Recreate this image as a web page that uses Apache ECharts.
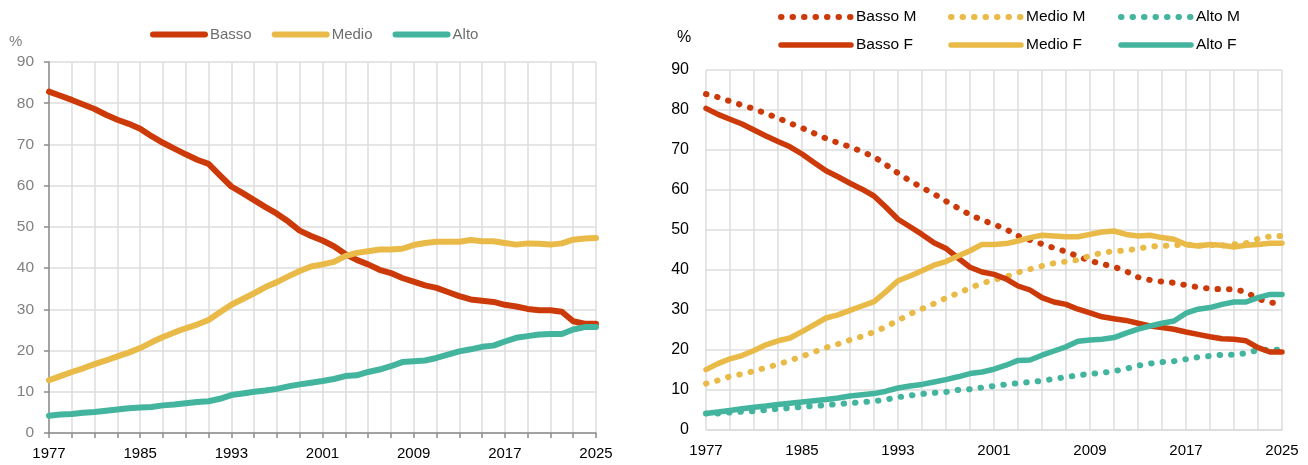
<!DOCTYPE html>
<html>
<head>
<meta charset="utf-8">
<script src="https://cdn.jsdelivr.net/npm/echarts@6/dist/echarts.min.js"></script>
<style>
html, body { margin: 0; padding: 0; background: #fff; }
#chart { width: 1308px; height: 465px; }
</style>
</head>
<body>
<div id="chart"></div>
<script>
// anni 1977-2025
const years = [];
for (let y = 1977; y <= 2025; y++) years.push(String(y));

const yTicks = [0, 10, 20, 30, 40, 50, 60, 70, 80, 90];

// grafico di sinistra: totale
const basso = [82.8, 81.8, 80.8, 79.7, 78.6, 77.2, 76.0, 75.0, 73.8, 72.0, 70.4, 69.0, 67.6, 66.3, 65.3, 62.5, 59.8, 58.2, 56.5, 54.8, 53.2, 51.3, 49.1, 47.8, 46.7,
  45.3, 43.4, 42.0, 40.9, 39.6, 38.8, 37.6, 36.7, 35.8, 35.2, 34.2, 33.2, 32.4, 32.1, 31.8, 31.1, 30.7, 30.1, 29.8, 29.8, 29.4, 27.1, 26.5, 26.5];
const medio = [12.8, 13.8, 14.8, 15.7, 16.7, 17.6, 18.6, 19.5, 20.6, 22.0, 23.3, 24.4, 25.4, 26.3, 27.4, 29.3, 31.1, 32.5, 33.9, 35.4, 36.6, 38.0, 39.3, 40.4, 40.9,
  41.5, 42.9, 43.7, 44.1, 44.5, 44.5, 44.7, 45.6, 46.1, 46.4, 46.4, 46.4, 46.8, 46.5, 46.5, 46.1, 45.7, 46.0, 45.9, 45.7, 46.0, 46.9, 47.2, 47.3];
const alto = [4.2, 4.5, 4.6, 4.9, 5.1, 5.4, 5.7, 6.0, 6.2, 6.3, 6.7, 6.9, 7.2, 7.5, 7.7, 8.3, 9.2, 9.6, 10.0, 10.3, 10.7, 11.3, 11.8, 12.2, 12.6,
  13.1, 13.8, 14.0, 14.8, 15.4, 16.2, 17.2, 17.4, 17.6, 18.2, 19.0, 19.8, 20.3, 20.9, 21.2, 22.2, 23.1, 23.5, 23.9, 24.0, 24.0, 25.1, 25.7, 25.7];

// grafico di destra: maschi (M) e femmine (F)
const bassoM = [84.0, 83.2, 82.2, 81.2, 80.3, 79.1, 78.0, 76.7, 75.5, 74.2, 72.9, 71.8, 70.8, 69.6, 68.3, 66.3, 64.2, 62.3, 60.6, 59.0, 57.2, 55.5, 53.8, 52.5, 51.4,
  50.2, 48.5, 47.5, 46.5, 45.5, 44.6, 43.4, 42.3, 41.5, 40.8, 39.7, 38.2, 37.5, 37.1, 36.8, 36.2, 35.7, 35.3, 35.2, 35.2, 34.5, 32.8, 31.9, 31.5];
const medioM = [11.6, 12.4, 13.4, 14.0, 14.7, 15.6, 16.4, 17.4, 18.4, 19.5, 20.6, 21.5, 22.5, 23.4, 24.5, 25.8, 27.4, 29.0, 30.3, 31.6, 33.0, 34.2, 35.5, 36.7, 37.5,
  38.3, 39.4, 40.2, 41.0, 41.7, 42.1, 42.5, 43.6, 44.3, 44.7, 44.9, 45.3, 45.9, 46.0, 46.2, 46.4, 46.1, 46.3, 46.1, 46.4, 46.7, 47.8, 48.4, 48.5];
const altoM = [4.1, 4.1, 4.4, 4.6, 4.7, 5.0, 5.3, 5.5, 5.8, 6.0, 6.2, 6.5, 6.7, 7.0, 7.2, 7.6, 8.2, 8.6, 9.0, 9.3, 9.5, 10.0, 10.2, 10.6, 11.0,
  11.4, 11.7, 12.0, 12.3, 12.8, 13.2, 13.7, 14.0, 14.3, 14.7, 15.3, 16.1, 16.6, 17.0, 17.2, 17.7, 18.2, 18.5, 18.8, 18.8, 19.2, 20.0, 20.1, 20.0];
const bassoF = [80.4, 78.9, 77.7, 76.5, 75.0, 73.5, 72.1, 70.8, 69.0, 66.9, 64.8, 63.3, 61.7, 60.2, 58.5, 55.7, 52.7, 50.8, 48.9, 46.8, 45.4, 43.0, 40.7, 39.5, 38.9,
  37.8, 36.0, 35.0, 33.1, 32.0, 31.4, 30.2, 29.3, 28.3, 27.8, 27.4, 26.7, 26.0, 25.6, 25.2, 24.5, 23.9, 23.3, 22.8, 22.7, 22.3, 20.6, 19.5, 19.5];
const medioF = [15.1, 16.6, 17.8, 18.6, 19.9, 21.3, 22.3, 23.0, 24.6, 26.3, 28.0, 28.8, 29.9, 31.0, 32.1, 34.6, 37.3, 38.5, 39.8, 41.2, 42.1, 43.5, 44.8, 46.4, 46.4,
  46.6, 47.25, 48.1, 48.7, 48.5, 48.3, 48.3, 48.9, 49.5, 49.75, 48.9, 48.5, 48.7, 48.1, 47.7, 46.4, 46.0, 46.4, 46.2, 45.75, 46.2, 46.4, 46.7, 46.7];
const altoF = [4.1, 4.5, 4.9, 5.3, 5.7, 6.0, 6.4, 6.7, 7.0, 7.3, 7.6, 8.0, 8.5, 8.8, 9.1, 9.7, 10.5, 11.0, 11.4, 12.0, 12.6, 13.3, 14.1, 14.5, 15.2,
  16.2, 17.4, 17.5, 18.7, 19.75, 20.8, 22.2, 22.5, 22.7, 23.1, 24.2, 25.2, 26.0, 26.7, 27.25, 29.2, 30.2, 30.6, 31.4, 32.0, 32.0, 33.1, 33.9, 33.9];

const RED = '#cc3a0a', YEL = '#e9ba48', TEAL = '#43b49d';
const SANS = "'Liberation Sans', Arial, sans-serif";
const GRID = '#dcdcdc';

const chart = echarts.init(document.getElementById('chart'));

function xAxisOf(idx, lineColor, showTicks) {
  return {
    type: 'category', gridIndex: idx, data: years, boundaryGap: false,
    axisLine: { show: true, lineStyle: { color: lineColor, width: 1.5 } },
    axisTick: { show: showTicks, interval: 1, length: 5, lineStyle: { color: lineColor, width: 1.5 } },
    axisLabel: { interval: 7, color: '#000', fontFamily: SANS, fontSize: 15, margin: 13 },
    splitLine: { show: true, interval: 1, lineStyle: { color: GRID, width: 1.5 } }
  };
}
function yAxisOf(idx, opt) {
  return {
    type: 'value', gridIndex: idx, min: yTicks[0], max: yTicks[yTicks.length - 1], interval: 10,
    axisLine: { show: opt.line, lineStyle: { color: '#8c8c8c', width: 1.5 } },
    axisTick: { show: opt.line, length: 5, lineStyle: { color: '#8c8c8c', width: 1.5 } },
    axisLabel: { color: opt.color, fontFamily: SANS, fontSize: opt.size, margin: opt.margin },
    splitLine: { show: true, lineStyle: { color: GRID, width: 1.5 } }
  };
}
function solid(name, data, color, g, w) {
  return { name: name, type: 'line', xAxisIndex: g, yAxisIndex: g, data: data, symbol: 'none',
    lineStyle: { color: color, width: w, cap: 'round', join: 'round' }, itemStyle: { color: color } };
}
function dotted(name, data, color, g) {
  return { name: name, type: 'line', xAxisIndex: g, yAxisIndex: g, data: data, symbol: 'none',
    lineStyle: { color: color, width: 6, type: [0.5, 11], cap: 'round' }, itemStyle: { color: color } };
}
function rightLegend(left, names) {
  return {
    left: left, top: 8, padding: 0, orient: 'vertical', itemWidth: 70, itemHeight: 14, itemGap: 10,
    itemStyle: { opacity: 0 }, lineStyle: { width: 'inherit' },
    textStyle: { color: '#000', fontFamily: SANS, fontSize: 15.5, lineHeight: 18 }, data: names
  };
}

const option = {
  animation: false,
  backgroundColor: '#fff',
  title: [
    { text: '%', left: 9, top: 34, padding: 0, textStyle: { color: '#808080', fontFamily: SANS, fontSize: 15, fontWeight: 'normal' } },
    { text: '%', left: 677, top: 30, padding: 0, textStyle: { color: '#000', fontFamily: SANS, fontSize: 16, fontWeight: 'normal' } }
  ],
  legend: [
    { left: 150, top: 27, padding: 0, itemWidth: 52, itemHeight: 14, itemGap: 20,
      itemStyle: { opacity: 0 }, lineStyle: { width: 'inherit' },
      textStyle: { color: '#6e6e6e', fontFamily: SANS, fontSize: 15 }, data: ['Basso', 'Medio', 'Alto'] },
    rightLegend(778, ['Basso M', 'Basso F']),
    rightLegend(948, ['Medio M', 'Medio F']),
    rightLegend(1118, ['Alto M', 'Alto F'])
  ],
  grid: [
    { left: 49, top: 62, width: 547, height: 371 },
    { left: 706, top: 70, width: 576, height: 360 }
  ],
  xAxis: [xAxisOf(0, '#8c8c8c', true), xAxisOf(1, GRID, false)],
  yAxis: [
    yAxisOf(0, { line: true, color: '#808080', size: 15.5, margin: 15 }),
    yAxisOf(1, { line: false, color: '#000', size: 16, margin: 17 })
  ],
  series: [
    solid('Basso', basso, RED, 0, 6),
    solid('Medio', medio, YEL, 0, 6),
    solid('Alto', alto, TEAL, 0, 6),
    dotted('Basso M', bassoM, RED, 1),
    dotted('Medio M', medioM, YEL, 1),
    dotted('Alto M', altoM, TEAL, 1),
    solid('Basso F', bassoF, RED, 1, 5.5),
    solid('Medio F', medioF, YEL, 1, 5.5),
    solid('Alto F', altoF, TEAL, 1, 5.5)
  ]
};
chart.setOption(option);
</script>
</body>
</html>
